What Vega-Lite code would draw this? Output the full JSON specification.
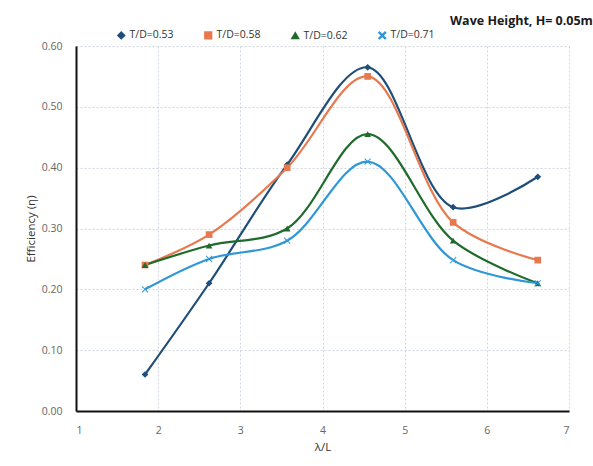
{
  "$schema": "https://vega.github.io/schema/vega-lite/v6.json",
  "width": 493,
  "height": 365,
  "autosize": {"type": "none"},
  "padding": {"left": 76, "top": 46, "right": 24, "bottom": 55},
  "background": "white",
  "title": {
    "text": "Wave Height, H= 0.05m",
    "anchor": "start",
    "frame": "group",
    "dx": 374,
    "offset": 3,
    "font": "Open Sans",
    "fontSize": 12.5,
    "fontWeight": "bold",
    "color": "#1a1a1a"
  },
  "config": {
    "font": "Open Sans",
    "view": {"stroke": null},
    "axis": {
      "domainColor": "#111111",
      "domainWidth": 2,
      "ticks": false,
      "gridColor": "#cfd4dc",
      "gridDash": [2, 2],
      "gridWidth": 1,
      "labelColor": "#666666",
      "labelFontSize": 10.5,
      "titleColor": "#333333",
      "titleFontSize": 11.5,
      "titleFontWeight": "normal"
    },
    "legend": {
      "orient": "none",
      "legendX": 40,
      "legendY": -16,
      "direction": "horizontal",
      "labelFontSize": 10.5,
      "labelColor": "#333333",
      "symbolSize": 45,
      "columnPadding": 27,
      "labelOffset": 3
    }
  },
  "data": {
    "values": [
      {"x": 1.84, "y": 0.06, "s": "T/D=0.53"},
      {"x": 2.62, "y": 0.21, "s": "T/D=0.53"},
      {"x": 3.57, "y": 0.405, "s": "T/D=0.53"},
      {"x": 4.55, "y": 0.565, "s": "T/D=0.53"},
      {"x": 5.59, "y": 0.335, "s": "T/D=0.53"},
      {"x": 6.62, "y": 0.385, "s": "T/D=0.53"},
      {"x": 1.84, "y": 0.24, "s": "T/D=0.58"},
      {"x": 2.62, "y": 0.29, "s": "T/D=0.58"},
      {"x": 3.57, "y": 0.40, "s": "T/D=0.58"},
      {"x": 4.55, "y": 0.55, "s": "T/D=0.58"},
      {"x": 5.59, "y": 0.31, "s": "T/D=0.58"},
      {"x": 6.62, "y": 0.248, "s": "T/D=0.58"},
      {"x": 1.84, "y": 0.24, "s": "T/D=0.62"},
      {"x": 2.62, "y": 0.272, "s": "T/D=0.62"},
      {"x": 3.57, "y": 0.30, "s": "T/D=0.62"},
      {"x": 4.55, "y": 0.455, "s": "T/D=0.62"},
      {"x": 5.59, "y": 0.28, "s": "T/D=0.62"},
      {"x": 6.62, "y": 0.21, "s": "T/D=0.62"},
      {"x": 1.84, "y": 0.20, "s": "T/D=0.71"},
      {"x": 2.62, "y": 0.25, "s": "T/D=0.71"},
      {"x": 3.57, "y": 0.28, "s": "T/D=0.71"},
      {"x": 4.55, "y": 0.41, "s": "T/D=0.71"},
      {"x": 5.59, "y": 0.248, "s": "T/D=0.71"},
      {"x": 6.62, "y": 0.21, "s": "T/D=0.71"}
    ]
  },
  "encoding": {
    "x": {
      "field": "x",
      "type": "quantitative",
      "scale": {"domain": [1, 7], "nice": false, "zero": false},
      "axis": {"values": [1, 2, 3, 4, 5, 6, 7], "format": "d", "title": "λ/L", "labelPadding": 14, "titlePadding": 6}
    },
    "y": {
      "field": "y",
      "type": "quantitative",
      "scale": {"domain": [0, 0.6], "nice": false},
      "axis": {"values": [0, 0.1, 0.2, 0.3, 0.4, 0.5, 0.6], "format": ".2f", "title": "Efficiency (η)", "labelPadding": 14, "titlePadding": 5}
    },
    "color": {
      "field": "s",
      "type": "nominal",
      "title": null,
      "scale": {
        "domain": ["T/D=0.53", "T/D=0.58", "T/D=0.62", "T/D=0.71"],
        "range": ["#1f4e79", "#e8794e", "#1f6b2c", "#2e97d8"]
      }
    }
  },
  "layer": [
    {
      "mark": {"type": "line", "interpolate": "catmull-rom", "strokeWidth": 2.2}
    },
    {
      "mark": {"type": "point", "filled": true, "opacity": 1, "size": 45},
      "encoding": {
        "shape": {
          "field": "s",
          "type": "nominal",
          "title": null,
          "scale": {
            "domain": ["T/D=0.53", "T/D=0.58", "T/D=0.62", "T/D=0.71"],
            "range": ["diamond", "square", "triangle-up", "M-1,-0.8L-0.8,-1L0,-0.2L0.8,-1L1,-0.8L0.2,0L1,0.8L0.8,1L0,0.2L-0.8,1L-1,0.8L-0.2,0Z"]
          }
        }
      }
    }
  ]
}
